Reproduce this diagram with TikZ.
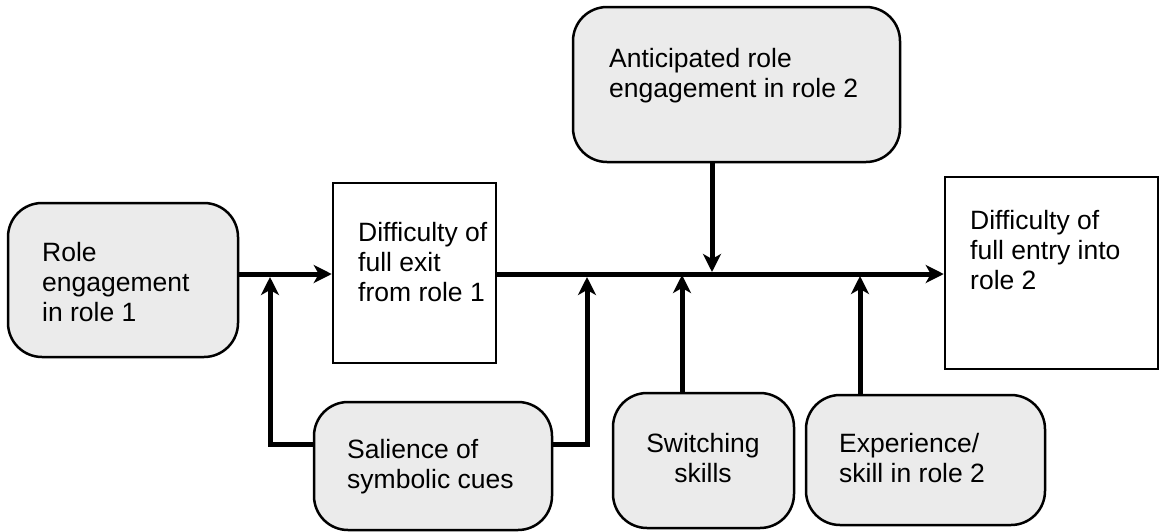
\documentclass[tikz,border=0pt]{standalone}
\usepackage{fontspec}
\setmainfont{Liberation Sans}
\usetikzlibrary{arrows.meta}
\definecolor{boxgray}{HTML}{EBEBEB}
\begin{document}
\begin{tikzpicture}[x=1pt,y=-1pt,
  rbox/.style={draw=black,line width=2.5pt,fill=boxgray,rounded corners=34pt,inner sep=0pt},
  sbox/.style={draw=black,line width=2.5pt,fill=white,inner sep=0pt},
  txt/.style={inner sep=0pt,font=\fontsize{26.5}{30}\selectfont},
  conn/.style={line width=5pt,-{Stealth[length=18pt,width=18pt,inset=5pt]}}
]
\useasboundingbox (0,0) rectangle (1160,531);
% boxes
\node[rbox,minimum width=230pt,minimum height=154pt] (re) at (123,280) {};
\node[sbox,minimum width=163pt,minimum height=180pt] (dx) at (414.5,273) {};
\node[rbox,minimum width=327pt,minimum height=155pt] (ar) at (736.5,84.5) {};
\node[sbox,minimum width=213pt,minimum height=192pt] (en) at (1051.5,273) {};
\node[rbox,minimum width=238pt,minimum height=128pt] (sc) at (433,466) {};
\node[rbox,minimum width=181pt,minimum height=135pt] (ss) at (703.5,460.5) {};
\node[rbox,minimum width=239pt,minimum height=130pt] (ex) at (925.5,460) {};
% texts
\node[txt,anchor=west,align=left] (ret) at (42,282) {Role\\engagement\\in role 1};
\node[txt,anchor=west,align=left] (dxt) at (358,262) {Difficulty of\\full exit\\from role 1};
\node[txt,anchor=west,align=left] (art) at (609,76) {Anticipated role\\engagement in role 2};
\node[txt,anchor=west,align=left] (ent) at (970,250) {Difficulty of\\full entry into\\role 2};
\node[txt,anchor=west,align=left] (sct) at (347,467) {Salience of\\symbolic cues};
\node[txt,align=center] (sst) at (703,458) {Switching\\skills};
\node[txt,anchor=west,align=left] (ext) at (839,458) {Experience/\\skill in role 2};
% coordinates
\coordinate (ly) at (0,274);
\coordinate (sy) at (0,444);
\coordinate (j1) at (270,277);
\coordinate (j2) at (587,277);
\coordinate (j3) at (682,275);
\coordinate (j4) at (712,272);
\coordinate (j5) at (860,276);
% connectors
\draw[conn] (re.east |- ly) -- (dx.west |- ly);
\draw[conn] (dx.east |- ly) -- (en.west |- ly);
\draw[conn] (sc.west |- sy) -| (j1);
\draw[conn] (sc.east |- sy) -| (j2);
\draw[conn] (ss.north -| j3) -- (j3);
\draw[conn] (ex.north -| j5) -- (j5);
\draw[conn] (ar.south -| j4) -- (j4);
\end{tikzpicture}
\end{document}
